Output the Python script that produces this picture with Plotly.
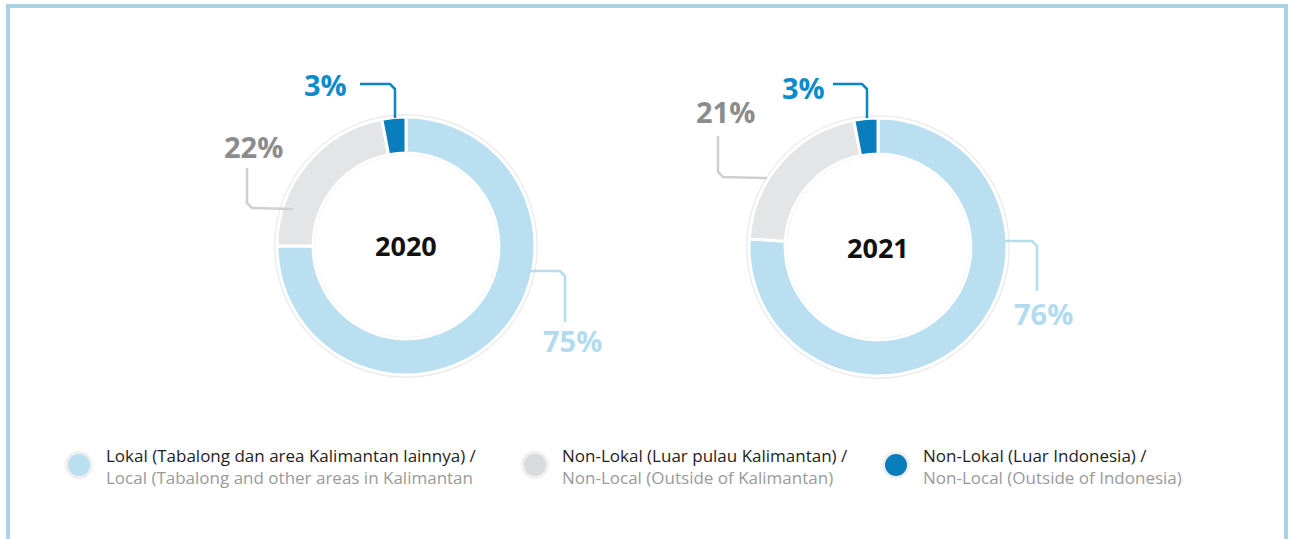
import plotly.graph_objects as go

W, H = 1289, 539

# ---- data ----
years = ["2020", "2021"]
categories_id = ["Lokal (Tabalong dan area Kalimantan lainnya) /",
                 "Non-Lokal (Luar pulau Kalimantan) /",
                 "Non-Lokal (Luar Indonesia) /"]
categories_en = ["Local (Tabalong and other areas in Kalimantan",
                 "Non-Local (Outside of Kalimantan)",
                 "Non-Local (Outside of Indonesia)"]
values_2020 = [75, 22, 3]
values_2021 = [76, 21, 3]
values = [values_2020, values_2021]

slice_colors = ["#b9dff0", "#e4e5e7", "#0a7dbd"]
label_colors = ["#b3dbee", "#8c8c8c", "#0a8bcd"]
line_colors = ["#b6dcee", "#cfcfcf", "#0a85c6"]

FONT = "Open Sans"


def px(x):
    return x / W


def py(y):
    return 1 - y / H


# donut geometry (pixels)
centers = [(406, 246), (878, 247)]
R = 129

fig = go.Figure()
shapes = []
annotations = []

for i, (cx, cy) in enumerate(centers):
    # faint outer rim
    fig.add_trace(go.Pie(
        values=[1], labels=["rim"], marker=dict(colors=["#ececec"]),
        hole=0.69, sort=False, textinfo="none", hoverinfo="skip",
        showlegend=False,
        domain=dict(x=[px(cx - R - 3), px(cx + R + 3)], y=[py(cy + R + 3), py(cy - R - 3)]),
    ))
    fig.add_trace(go.Pie(
        values=values[i], labels=categories_en, sort=False,
        direction="clockwise", rotation=0, hole=0.72,
        marker=dict(colors=slice_colors, line=dict(color="white", width=3)),
        textinfo="none", showlegend=False,
        domain=dict(x=[px(cx - R), px(cx + R)], y=[py(cy + R), py(cy - R)]),
    ))
    annotations.append(dict(x=px(cx), y=py(cy), xref="paper", yref="paper",
                            xanchor="center", yanchor="middle",
                            text=f"<b>{years[i]}</b>", showarrow=False,
                            font=dict(family=FONT, size=27, color="#111111")))

# label positions and leader paths (pixels): (text x, text y, path points)
label_specs = [
    [  # 2020
        (572, 340, [(528, 271), (560, 271), (565, 276), (565, 322)]),
        (253, 146, [(247, 168), (247, 203), (252, 208), (293, 209)]),
        (325, 85, [(360, 84), (390, 84), (395, 89), (395, 118)]),
    ],
    [  # 2021
        (1043, 313, [(1005, 241), (1032, 241), (1037, 246), (1037, 291)]),
        (725, 111, [(718, 136), (718, 172), (723, 177), (767, 178)]),
        (803, 87, [(833, 84), (862, 84), (867, 89), (867, 118)]),
    ],
]

for i, specs in enumerate(label_specs):
    for k, (tx, ty, pts) in enumerate(specs):
        annotations.append(dict(x=px(tx), y=py(ty), xref="paper", yref="paper",
                                xanchor="center", yanchor="middle",
                                text=f"<b>{values[i][k]}%</b>", showarrow=False,
                                font=dict(family=FONT, size=29, color=label_colors[k])))
        path = "M " + " L ".join(f"{px(x):.5f},{py(y):.5f}" for x, y in pts)
        shapes.append(dict(type="path", path=path, xref="paper", yref="paper",
                           line=dict(color=line_colors[k], width=2.5)))

# legend
legend_x = [79, 535, 896]
legend_y = 465
for k in range(3):
    lx = legend_x[k]
    shapes.append(dict(type="circle", xref="paper", yref="paper",
                       x0=px(lx - 14), x1=px(lx + 14), y0=py(legend_y + 14), y1=py(legend_y - 14),
                       fillcolor="#f0f0f0", line=dict(width=0)))
    shapes.append(dict(type="circle", xref="paper", yref="paper",
                       x0=px(lx - 11), x1=px(lx + 11), y0=py(legend_y + 11), y1=py(legend_y - 11),
                       fillcolor=slice_colors[k] if k != 1 else "#d9dadc", line=dict(width=0)))
    annotations.append(dict(x=px(lx + 25), y=py(455), xref="paper", yref="paper",
                            xanchor="left", yanchor="middle", text=categories_id[k],
                            showarrow=False, font=dict(family=FONT, size=17, color="#1e1e1e")))
    annotations.append(dict(x=px(lx + 25), y=py(477), xref="paper", yref="paper",
                            xanchor="left", yanchor="middle", text=categories_en[k],
                            showarrow=False, font=dict(family=FONT, size=17, color="#9a9a9a")))

# frame
shapes.append(dict(type="rect", xref="paper", yref="paper",
                   x0=px(8), x1=px(1286), y0=py(560), y1=py(6),
                   line=dict(color="#a9d3e5", width=4)))

fig.update_layout(
    width=W, height=H, margin=dict(l=0, r=0, t=0, b=0),
    paper_bgcolor="white", plot_bgcolor="white",
    shapes=shapes, annotations=annotations, showlegend=False,
)

fig.write_html("out.html", config={"displayModeBar": False},
               post_script="document.body.style.margin='0';document.body.style.overflow='hidden';")
